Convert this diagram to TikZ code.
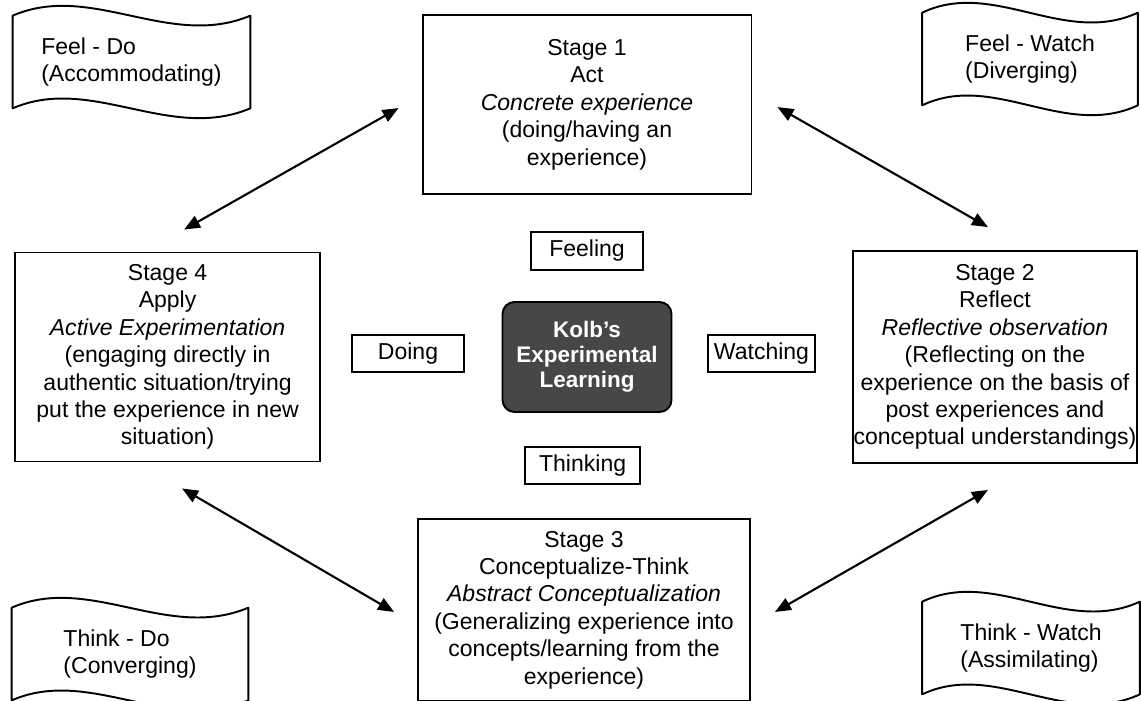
\documentclass[tikz,border=0pt]{standalone}
\usepackage{fontspec}
\setmainfont{Liberation Sans}
\usetikzlibrary{arrows.meta,shapes,calc}

\begin{document}
\begin{tikzpicture}[x=0.02cm,y=-0.02cm,
    every node/.style={inner sep=0pt,minimum size=0pt,align=center,font=\fontsize{13.1}{15.6}\selectfont},
    stagebox/.style={draw=black,line width=1.1pt},
    tagbox/.style={draw=black,line width=1.1pt,minimum height=0.75cm},
    flagbox/.style={align=left,minimum height=1.84cm},
    link/.style={draw=black,line width=1.2pt,{Triangle[length=0.32cm,width=0.26cm]}-{Triangle[length=0.32cm,width=0.26cm]}}]
    \useasboundingbox (0,0) rectangle (1141,700);

    \node(kolb)[draw=black,line width=1.1pt,fill=black!72,rounded corners=0.24cm,minimum width=3.38cm,minimum height=2.2cm,text=white,font=\fontsize{12.8}{14.2}\selectfont\bfseries] at (587,357) {Kolb's\\Experimental\\Learning};

    \node(feel)[tagbox,minimum width=2.24cm,above of=kolb,node distance=2.12cm] {Feeling};
    \node(think)[tagbox,minimum width=2.3cm,below of=kolb,node distance=2.17cm,xshift=-2.5pt] {Thinking};
    \node(doing)[tagbox,minimum width=2.24cm,left of=kolb,node distance=3.58cm,yshift=2pt] {Doing};
    \node(watch)[tagbox,minimum width=2.14cm,right of=kolb,node distance=3.49cm,yshift=2pt] {Watching};

    \node(s1)[stagebox,minimum width=6.58cm,minimum height=3.58cm,above of=kolb,node distance=5.05cm] {Stage 1\\Act\\\textit{Concrete experience}\\(doing/having an\\experience)};
    \node(s2)[stagebox,minimum width=5.68cm,minimum height=4.24cm,right of=kolb,node distance=8.16cm] {Stage 2\\Reflect\\\textit{Reflective observation}\\(Reflecting on the\\experience on the basis of\\post experiences and\\conceptual understandings)};
    \node(s3)[stagebox,minimum width=6.64cm,minimum height=3.64cm,below of=kolb,node distance=5.06cm,xshift=-1.7pt] {Stage 3\\Conceptualize-Think\\\textit{Abstract Conceptualization}\\(Generalizing experience into\\concepts/learning from the\\experience)};
    \node(s4)[stagebox,minimum width=6.1cm,minimum height=4.18cm,left of=kolb,node distance=8.39cm] {Stage 4\\Apply\\\textit{Active Experimentation}\\(engaging directly in\\authentic situation/trying\\put the experience in new\\situation)};

    \node(fd)[flagbox,minimum width=4.74cm] at (131.5,62) {Feel - Do\\(Accommodating)};
    \node(fw)[flagbox,minimum width=4.3cm] at (1030,59) {Feel - Watch\\(Diverging)};
    \node(td)[flagbox,minimum width=4.72cm] at (130,654) {Think - Do\\(Converging)};
    \node(tw)[flagbox,minimum width=4.34cm] at (1031,648) {Think - Watch\\(Assimilating)};

    % wavy outline round each flag
    \foreach \f in {fd,fw,td,tw}
      \path[draw=black,line width=1.1pt,line join=round](\f.north west)
        .. controls ($(\f.north west)!0.33!(\f.north east)+(0,-34)$) and ($(\f.north west)!0.66!(\f.north east)+(0,34)$) .. (\f.north east)
        -- (\f.south east)
        .. controls ($(\f.south west)!0.66!(\f.south east)+(0,34)$) and ($(\f.south west)!0.33!(\f.south east)+(0,-34)$) .. (\f.south west)
        -- cycle;

    \path[link]($(s1.west)+(-23,3.5)$) -- ($(s4.north)+(16.5,-22)$);
    \path[link]($(s1.east)+(25,2.5)$) -- ($(s2.north)+(-7,-23)$);
    \path[link]($(s4.south)+(14.5,26)$) -- ($(s3.west)+(-23,2)$);
    \path[link]($(s2.south)+(-7,26)$) -- ($(s3.east)+(24,2)$);

  \end{tikzpicture}
\end{document}
